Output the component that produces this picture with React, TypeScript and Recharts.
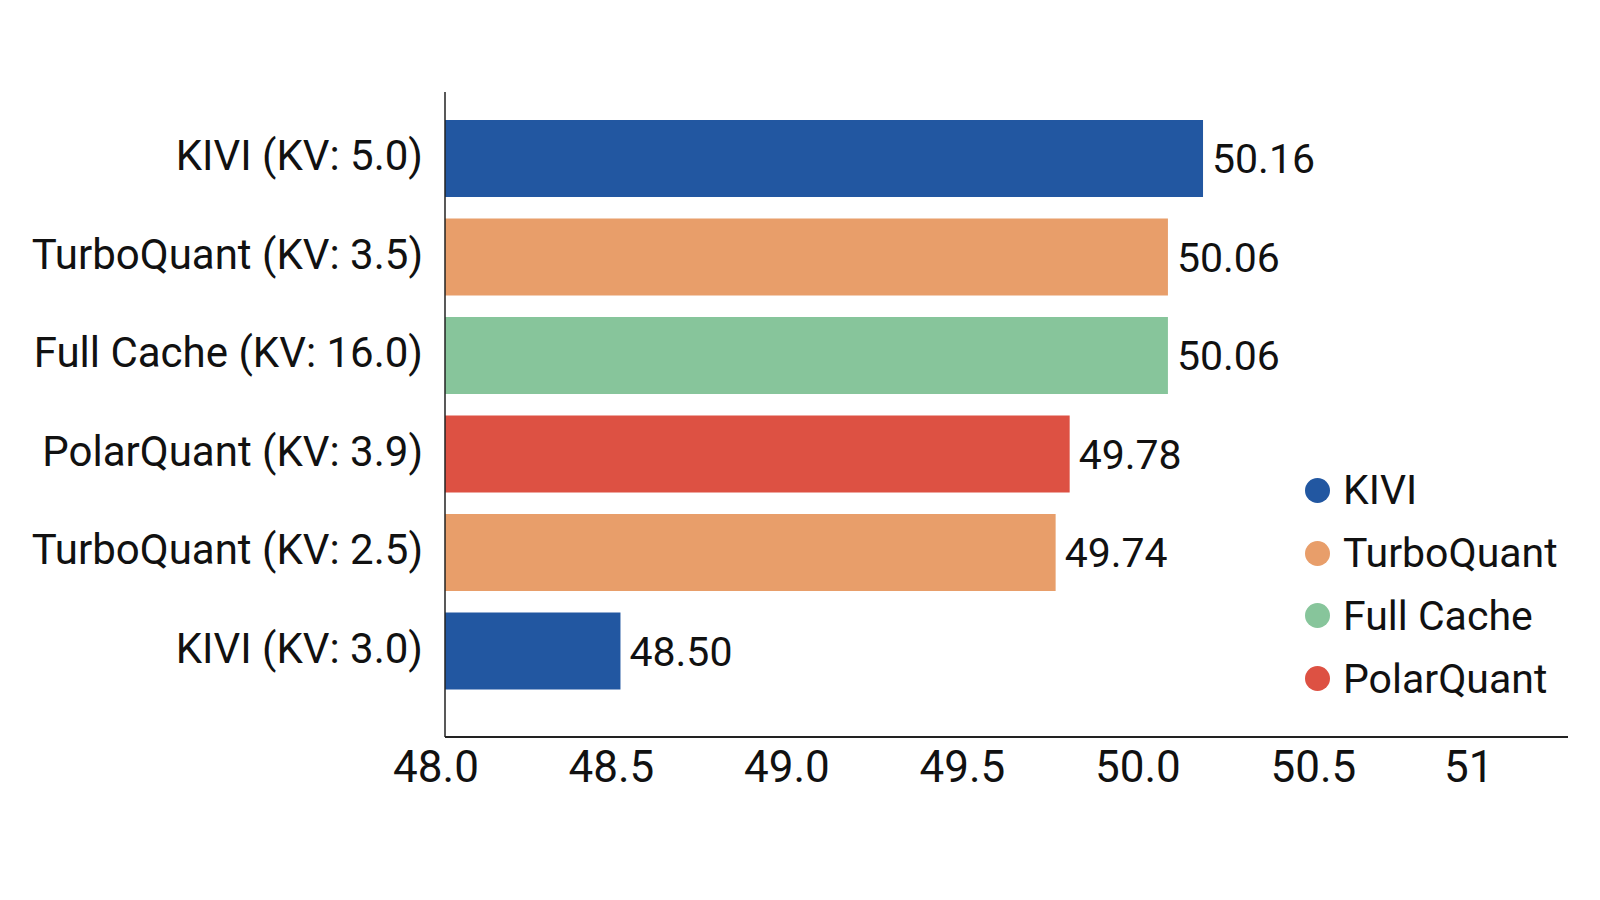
import { Bar, BarChart, Cell, LabelList, Legend, XAxis, YAxis } from 'recharts'

const categories = [
  'KIVI (KV: 5.0)',
  'TurboQuant (KV: 3.5)',
  'Full Cache (KV: 16.0)',
  'PolarQuant (KV: 3.9)',
  'TurboQuant (KV: 2.5)',
  'KIVI (KV: 3.0)',
]
const scores = [50.16, 50.06, 50.06, 49.78, 49.74, 48.5]
const methods = ['KIVI', 'TurboQuant', 'Full Cache', 'PolarQuant', 'TurboQuant', 'KIVI']

const legendNames = ['KIVI', 'TurboQuant', 'Full Cache', 'PolarQuant']
const xTicks = [48, 48.5, 49, 49.5, 50, 50.5, 51]
const xTickLabels = ['48.0', '48.5', '49.0', '49.5', '50.0', '50.5', '51']

const COLORS: Record<string, string> = {
  KIVI: '#2257a1',
  TurboQuant: '#e89e6a',
  'Full Cache': '#87c59b',
  PolarQuant: '#dd5143',
}

const FONT = 'Roboto, sans-serif'

const data = categories.map((name, i) => ({ name, value: scores[i], method: methods[i] }))

function XTick({ x, y, payload }: any) {
  const idx = xTicks.indexOf(payload.value)
  // the last label sits a bit left of its tick in the original
  const shift = idx === xTicks.length - 1 ? -29 : -9
  return (
    <text x={x + shift} y={y} dy="0.71em" textAnchor="middle" fontSize={44} fill="#111" fontFamily={FONT}>
      {idx >= 0 ? xTickLabels[idx] : payload.value}
    </text>
  )
}

function LegendBox() {
  return (
    <div style={{ fontFamily: FONT, fontSize: 41, color: '#111' }}>
      {legendNames.map((n) => (
        <div key={n} style={{ display: 'flex', alignItems: 'center', height: 62.8 }}>
          <span
            style={{
              width: 25,
              height: 25,
              borderRadius: 13,
              background: COLORS[n],
              display: 'inline-block',
              marginRight: 13,
            }}
          />
          <span>{n}</span>
        </div>
      ))}
    </div>
  )
}

export default function App() {
  return (
    <div style={{ position: 'absolute', left: 0, top: 0, width: 1600, height: 900, background: '#fff' }}>
      <BarChart
        width={1600}
        height={900}
        layout="vertical"
        data={data}
        margin={{ top: 92, right: 32, left: 0, bottom: 103 }}
        barCategoryGap={22}
      >
        <XAxis
          type="number"
          domain={[48, 51.2]}
          ticks={xTicks}
          allowDataOverflow
          tickLine={false}
          tickSize={0}
          tickMargin={14}
          height={60}
          axisLine={{ stroke: '#222', strokeWidth: 2 }}
          tick={<XTick />}
        />
        <YAxis
          type="category"
          dataKey="name"
          width={445}
          tickLine={false}
          tickSize={0}
          tickMargin={22}
          padding={{ top: 17, bottom: 37 }}
          axisLine={{ stroke: '#222', strokeWidth: 1.5 }}
          tick={{ fontSize: 42, fill: '#111', fontFamily: FONT, dy: -3 }}
        />
        <Legend
          layout="vertical"
          align="center"
          verticalAlign="middle"
          wrapperStyle={{ left: 1305, top: 459, width: 290 }}
          content={<LegendBox />}
        />
        <Bar dataKey="value" isAnimationActive={false} barSize={77}>
          {data.map((entry, index) => (
            <Cell key={`cell-${index}`} fill={COLORS[entry.method]} />
          ))}
          <LabelList
            dataKey="value"
            position="right"
            offset={9}
            fontSize={41}
            fill="#111"
            fontFamily={FONT}
            formatter={(v: any) => Number(v).toFixed(2)}
          />
        </Bar>
      </BarChart>
    </div>
  )
}
